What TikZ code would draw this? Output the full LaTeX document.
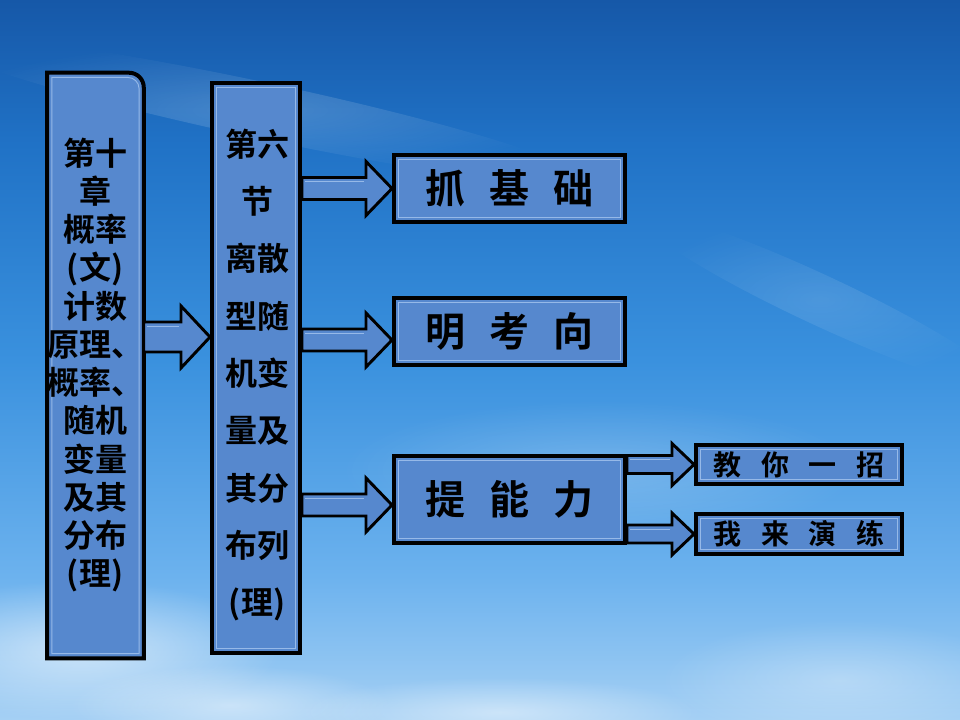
\documentclass[tikz,border=0pt]{standalone}
\usepackage{fontspec}
\newfontfamily\cjk{Noto Sans CJK SC}[BoldFont={Noto Sans CJK SC Bold}]
\usetikzlibrary{calc,fadings}
\definecolor{boxblue}{RGB}{86,136,206}
\definecolor{boxlite}{RGB}{150,185,232}
\definecolor{skyT}{RGB}{22,88,168}
\definecolor{skyA}{RGB}{32,114,198}
\definecolor{skyM}{RGB}{58,145,222}
\definecolor{skyL}{RGB}{108,178,238}
\definecolor{skyB}{RGB}{165,208,244}
\pgfdeclareverticalshading{sky}{100bp}{color(0bp)=(skyB); color(25bp)=(skyB); color(35bp)=(skyL); color(50bp)=(skyM); color(65bp)=(skyA); color(75bp)=(skyT); color(100bp)=(skyT)}
\tikzfading[name=softedge, inner color=transparent!0, outer color=transparent!100]
\newcommand\blockarrow[5]{% #1 start, #2 tip, #3 shaft half, #4 head half, #5 head length
  \draw[arrowsty] ($(#1)+(0,-#3)$) -- ($(#2)+(-#5,-#3)$) -- ($(#2)+(-#5,-#4)$) -- (#2)
    -- ($(#2)+(-#5,#4)$) -- ($(#2)+(-#5,#3)$) -- ($(#1)+(0,#3)$) -- cycle;
  \draw[boxlite, line width=0.6pt] ($(#1)+(3,-#3+4)$) -- ($(#2)+(-#5-2,-#3+4)$);
}
\begin{document}
\begin{tikzpicture}[x=0.75pt,y=-0.75pt,
  box/.style={draw=black, line width=3pt, fill=boxblue, inner sep=0pt,
    path picture={\draw[boxlite, line width=0.7pt]
      ($(path picture bounding box.south west)+(3.5pt,3.5pt)$) rectangle
      ($(path picture bounding box.north east)+(-3.5pt,-3.5pt)$);}},
  arrowsty/.style={draw=black, line width=2.2pt, fill=boxblue, line join=miter},
  coltext/.style={font=\cjk\bfseries\fontsize{24}{28.7}\selectfont, align=center, inner sep=0pt},
  bigtext/.style={font=\cjk\bfseries\fontsize{30}{36}\selectfont, inner sep=0pt},
  smalltext/.style={font=\cjk\bfseries\fontsize{21}{25}\selectfont, inner sep=0pt},
  cloud/.style={white, path fading=softedge}]
\useasboundingbox (0,0) rectangle (960,720);
% sky
\shade[shading=sky] (0,0) rectangle (960,720);
\fill[cloud, opacity=0.18, rotate around={-12:(260,110)}] (260,110) ellipse (330 and 28);
\fill[cloud, opacity=0.12, rotate around={-25:(820,300)}] (820,300) ellipse (200 and 25);
\fill[cloud, opacity=0.55] (80,650) ellipse (200 and 70);
\fill[cloud, opacity=0.45] (230,705) ellipse (160 and 40);
\fill[cloud, opacity=0.45] (500,712) ellipse (200 and 35);
\fill[cloud, opacity=0.30] (840,680) ellipse (180 and 60);
\fill[cloud, opacity=0.20] (600,470) ellipse (260 and 70);
% boxes
\node[minimum width=72pt, minimum height=438.75pt, inner sep=0pt] (b1) at (95.5,365.5) {};
\draw[draw=black, line width=3pt, fill=boxblue] (b1.south west) -- (b1.north west) -- ($(b1.north east)+(-11pt,0pt)$)
  arc[start angle=90, end angle=0, radius=11pt] -- (b1.south east) -- cycle;
\draw[boxlite, line width=0.7pt] ($(b1.south west)+(3.5pt,3.5pt)$) -- ($(b1.north west)+(3.5pt,-3.5pt)$)
  -- ($(b1.north east)+(-12pt,-3.5pt)$) arc[start angle=90, end angle=0, radius=8.5pt]
  -- ($(b1.south east)+(-3.5pt,3.5pt)$) -- cycle;
\node[box, minimum width=66pt, minimum height=427.5pt] (b2) at (256,368) {};
\node[box, minimum width=173.25pt, minimum height=50pt] (bA) at (509.5,188.5) {};
\node[box, minimum width=173.25pt, minimum height=50pt] (bB) at (509.5,331.5) {};
\node[box, minimum width=173.25pt, minimum height=65pt] (bC) at (509.5,499.5) {};
\node[box, minimum width=154.5pt, minimum height=29pt] (bD) at (799,464.5) {};
\node[box, minimum width=154.5pt, minimum height=30pt] (bE) at (799,534) {};
% texts
\node[coltext] (t1) at (95,365) {第十\\章\\概率\\(文)\\计数\\原理、\\概率、\\随机\\变量\\及其\\分布\\(理)};
\node[coltext, font=\cjk\bfseries\fontsize{24}{43}\selectfont] (t2) at (257,375) {第六\\节\\离散\\型随\\机变\\量及\\其分\\布列\\(理)};
\node[bigtext] (tA) at (bA) {抓\hspace{18pt}基\hspace{18pt}础};
\node[bigtext] (tB) at (bB) {明\hspace{18pt}考\hspace{18pt}向};
\node[bigtext] (tC) at (bC) {提\hspace{18pt}能\hspace{18pt}力};
\node[smalltext] (tD) at (bD) {教\hspace{15pt}你\hspace{15pt}一\hspace{15pt}招};
\node[smalltext] (tE) at (bE) {我\hspace{15pt}来\hspace{15pt}演\hspace{15pt}练};
% arrows
\coordinate (a1s) at (b1.east |- 0,337);
\coordinate (a1e) at (b2.west |- 0,337);
\blockarrow{a1s}{a1e}{15}{31}{29}
\coordinate (aAs) at (b2.east |- bA.west);
\blockarrow{aAs}{bA.west}{11}{27}{26}
\coordinate (aBs) at (b2.east |- 0,340);
\coordinate (aBe) at (bB.west |- 0,340);
\blockarrow{aBs}{aBe}{11}{27}{26}
\coordinate (aCs) at (b2.east |- 0,505);
\coordinate (aCe) at (bC.west |- 0,505);
\blockarrow{aCs}{aCe}{11}{27}{26}
\coordinate (aDs) at (bC.east |- bD.west);
\blockarrow{aDs}{bD.west}{9}{21}{22}
\coordinate (aEs) at (bC.east |- bE.west);
\blockarrow{aEs}{bE.west}{9}{21}{22}
\end{tikzpicture}
\end{document}
